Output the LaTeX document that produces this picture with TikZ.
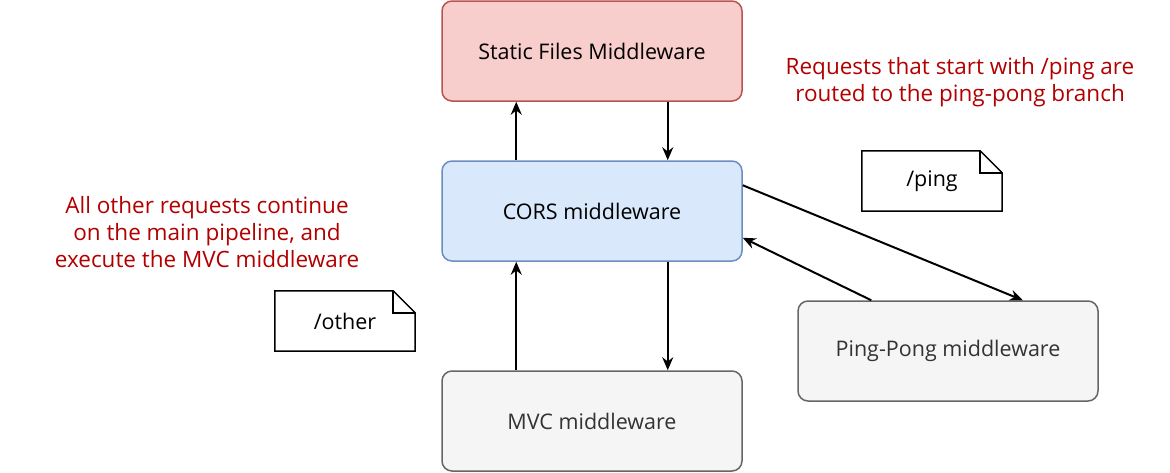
\documentclass[tikz,border=0pt]{standalone}
\usepackage{fontspec}
\setmainfont{Open Sans}
\usetikzlibrary{calc,arrows.meta}
\definecolor{redf}{HTML}{F8CECC}\definecolor{redd}{HTML}{B85450}
\definecolor{bluef}{HTML}{DAE8FC}\definecolor{blued}{HTML}{6C8EBF}
\definecolor{grayf}{HTML}{F5F5F5}\definecolor{grayd}{HTML}{666666}
\definecolor{txt}{HTML}{333333}\definecolor{note}{HTML}{B20000}
\begin{document}
\begin{tikzpicture}[x=1pt,y=-1pt,
 box/.style={draw,line width=1.5pt,rounded corners=10pt,minimum width=300pt,minimum height=100pt,font=\fontsize{21.5}{26}\selectfont,inner sep=0},
 arr/.style={-{Stealth[length=13pt,width=11pt]},line width=2pt},
 lbl/.style={text=note,font=\fontsize{22.5}{27}\selectfont,align=center},
 nt/.style={minimum width=140pt,minimum height=60pt,font=\fontsize{21.5}{26}\selectfont,inner sep=0}]
\useasboundingbox (0,0) rectangle (1170,472);
\node[box,fill=redf,draw=redd,text=black] (st) at (592,51) {Static Files Middleware};
\node[box,fill=bluef,draw=blued,text=black] (cors) at (592,211) {CORS middleware};
\node[box,fill=grayf,draw=grayd,text=txt] (mvc) at (592,421) {MVC middleware};
\node[box,fill=grayf,draw=grayd,text=txt] (pp) at (948,351) {Ping-Pong middleware};
\node[nt] (ping) at (932,181) {};
\node[nt] (oth) at (345,321) {};
\foreach \n in {ping,oth}{
 \draw[line width=1.5pt,fill=white] (\n.north west) -- ($(\n.north east)+(-22,0)$) -- ($(\n.north east)+(0,22)$) -- (\n.south east) -- (\n.south west) -- cycle;
 \draw[line width=1.5pt] ($(\n.north east)+(-22,0)$) -- ($(\n.north east)+(-22,22)$) -- ($(\n.north east)+(0,22)$);}
\node[nt] at (ping) {/ping};
\node[nt] at (oth) {/other};
\node[lbl] (t1) at (960,82) {Requests that start with /ping are\\routed to the ping-pong branch};
\node[lbl] (t2) at (207,232) {All other requests continue\\on the main pipeline, and\\execute the MVC middleware};
\draw[arr] ($(cors.north west)+(75,0)$) -- ($(st.south west)+(75,0)$);
\draw[arr] ($(st.south east)+(-75,0)$) -- ($(cors.north east)+(-75,0)$);
\draw[arr] ($(cors.south east)+(-75,0)$) -- ($(mvc.north east)+(-75,0)$);
\draw[arr] ($(mvc.north west)+(75,0)$) -- ($(cors.south west)+(75,0)$);
\draw[arr] ($(cors.north east)+(0,25)$) -- ($(pp.north east)+(-76,0)$);
\draw[arr] ($(pp.north west)+(74,0)$) -- ($(cors.south east)+(0,-24)$);
\end{tikzpicture}
\end{document}
